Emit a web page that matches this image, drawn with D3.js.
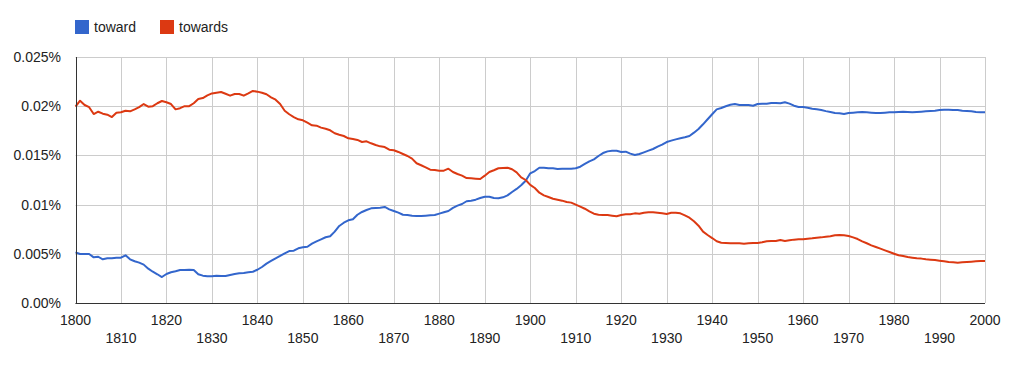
<!DOCTYPE html>
<html>
<head>
<meta charset="utf-8">
<script src="https://cdn.jsdelivr.net/npm/d3@7"></script>
<style>
  body { margin: 0; background: #fff; }
  svg text { font-family: Arial, "Liberation Sans", sans-serif; fill: #222; }
</style>
</head>
<body>
<div id="chart"></div>
<script>
const width = 1018;
const height = 366;
const margin = { left: 75.5, top: 57, right: 33, bottom: 63 };

const startYear = 1800;
const seriesNames = ["toward", "towards"];
const seriesColors = ["#3366cc", "#dc3912"];
const yTicks = [0, 0.005, 0.01, 0.015, 0.02, 0.025];
const yTickLabels = ["0.00%", "0.005%", "0.01%", "0.015%", "0.02%", "0.025%"];
const xTicks = [1800, 1810, 1820, 1830, 1840, 1850, 1860, 1870, 1880, 1890, 1900,
                1910, 1920, 1930, 1940, 1950, 1960, 1970, 1980, 1990, 2000];

// yearly values in percent, 1800..2000
const toward = [
  0.00515, 0.00498, 0.00498, 0.00498, 0.00464, 0.0047, 0.00444, 0.00454, 0.00454, 0.0046,
  0.0046, 0.00485, 0.00444, 0.00424, 0.0041, 0.0039, 0.00349, 0.00318, 0.00292, 0.00264,
  0.00295, 0.00312, 0.00322, 0.00335, 0.00335, 0.00339, 0.00335, 0.00292, 0.00278, 0.00271,
  0.00271, 0.00278, 0.00274, 0.00274, 0.00285, 0.00295, 0.00302, 0.00305, 0.00312, 0.00318,
  0.00338, 0.00366, 0.004, 0.00427, 0.00454, 0.00478, 0.00505, 0.00528, 0.00532, 0.00556,
  0.00566, 0.00572, 0.00603, 0.00627, 0.00647, 0.00668, 0.00678, 0.00725, 0.00783, 0.00816,
  0.0084, 0.00851, 0.00897, 0.00925, 0.00945, 0.00962, 0.00966, 0.00969, 0.00976, 0.00952,
  0.00935, 0.00918, 0.00897, 0.00894, 0.00887, 0.00884, 0.00884, 0.00887, 0.00891, 0.00894,
  0.00908, 0.00922, 0.00935, 0.00966, 0.00989, 0.01006, 0.01034, 0.0104, 0.0105, 0.01067,
  0.0108, 0.0108, 0.01067, 0.01064, 0.01074, 0.01094, 0.01128, 0.01159, 0.01196, 0.01243,
  0.01318, 0.01341, 0.01375, 0.01375, 0.01369, 0.01369, 0.01362, 0.01365, 0.01365, 0.01365,
  0.01369, 0.01385, 0.01413, 0.0144, 0.0146, 0.01494, 0.01524, 0.01541, 0.01548, 0.01548,
  0.01535, 0.01538, 0.01518, 0.01504, 0.01514, 0.01531, 0.01548, 0.01565, 0.01589, 0.01609,
  0.01636, 0.0165, 0.01663, 0.01674, 0.01684, 0.01697, 0.01731, 0.01768, 0.01816, 0.01867,
  0.01918, 0.01968, 0.01982, 0.02, 0.02015, 0.02022, 0.02012, 0.02012, 0.02012, 0.02005,
  0.02022, 0.02026, 0.02026, 0.02033, 0.02033, 0.0203, 0.0204, 0.02026, 0.02005, 0.01992,
  0.01992, 0.01985, 0.01975, 0.01968, 0.01961, 0.0195, 0.01941, 0.01931, 0.01928, 0.01921,
  0.01931, 0.01934, 0.01938, 0.01941, 0.01938, 0.01934, 0.01931, 0.01931, 0.01934, 0.01938,
  0.01938, 0.01941, 0.01944, 0.01941, 0.01938, 0.01941, 0.01944, 0.01948, 0.01951, 0.01954,
  0.01961, 0.01964, 0.01964, 0.01961, 0.01961, 0.01954, 0.01951, 0.01948, 0.01941, 0.01938,
  0.01938
];

const towards = [
  0.01995, 0.02056, 0.02012, 0.0199, 0.0192, 0.01944, 0.01924, 0.01914, 0.0189, 0.01934,
  0.01938, 0.01954, 0.01948, 0.01968, 0.0199, 0.02022, 0.01995, 0.02, 0.0203, 0.02053,
  0.0204, 0.02022, 0.01968, 0.0198, 0.02, 0.02, 0.0203, 0.02073, 0.02083, 0.0211,
  0.0213, 0.02137, 0.02144, 0.02126, 0.02107, 0.02124, 0.02124, 0.02107, 0.0213, 0.02155,
  0.02148, 0.02137, 0.02121, 0.0209, 0.02066, 0.02022, 0.01954, 0.01918, 0.0189, 0.01867,
  0.01857, 0.01832, 0.01806, 0.01802, 0.01782, 0.01771, 0.01755, 0.01725, 0.0171, 0.01697,
  0.01674, 0.01667, 0.01657, 0.01636, 0.01643, 0.01623, 0.01606, 0.01592, 0.01585, 0.01558,
  0.01552, 0.01535, 0.01514, 0.01494, 0.01467, 0.0142, 0.014, 0.01379, 0.01355, 0.01352,
  0.01345, 0.01345, 0.01365, 0.01331, 0.01311, 0.01294, 0.0127, 0.01267, 0.01263, 0.0126,
  0.01294, 0.01331, 0.01349, 0.01369, 0.01372, 0.01375, 0.01359, 0.01328, 0.01277, 0.0125,
  0.012, 0.01169, 0.01121, 0.01094, 0.01077, 0.0106, 0.0105, 0.0104, 0.01026, 0.0102,
  0.00999, 0.00979, 0.00958, 0.00931, 0.00908, 0.00897, 0.00894, 0.00894, 0.00887, 0.00881,
  0.00894, 0.00901, 0.00901, 0.00911, 0.00908, 0.00918, 0.00922, 0.00922, 0.00918, 0.00911,
  0.00904, 0.00918, 0.00918, 0.00911, 0.00891, 0.00867, 0.0083, 0.00786, 0.00725, 0.00691,
  0.0066, 0.00627, 0.00613, 0.0061, 0.00607, 0.00607, 0.00607, 0.00603, 0.00607, 0.0061,
  0.0061, 0.00617, 0.00627, 0.0063, 0.0063, 0.0064, 0.0063, 0.00637, 0.00644, 0.00647,
  0.00647, 0.00654, 0.00657, 0.00664, 0.00667, 0.00674, 0.00678, 0.00688, 0.00691, 0.00688,
  0.00681, 0.00667, 0.0065, 0.00627, 0.00607, 0.00586, 0.00569, 0.00552, 0.00535, 0.00518,
  0.00501, 0.00485, 0.00478, 0.00467, 0.0046, 0.00454, 0.00451, 0.00444, 0.0044, 0.00437,
  0.0043, 0.00424, 0.00417, 0.00413, 0.0041, 0.00413, 0.00417, 0.0042, 0.00424, 0.00427,
  0.00427
];

const allSeries = [toward, towards];

const svg = d3.select("#chart")
  .append("svg")
  .attr("width", width)
  .attr("height", height);

const xScale = d3.scaleLinear()
  .domain([1800, 2000])
  .range([margin.left, width - margin.right]);

const yScale = d3.scaleLinear()
  .domain([0, 0.025])
  .range([height - margin.bottom, margin.top]);

// gridlines
svg.append("g")
  .selectAll("line")
  .data(xTicks)
  .join("line")
    .attr("x1", d => Math.round(xScale(d)) + 0.5)
    .attr("x2", d => Math.round(xScale(d)) + 0.5)
    .attr("y1", yScale(0.025))
    .attr("y2", yScale(0))
    .attr("stroke", "#cccccc");

svg.append("g")
  .selectAll("line")
  .data(yTicks)
  .join("line")
    .attr("x1", xScale(1800))
    .attr("x2", xScale(2000))
    .attr("y1", d => Math.round(yScale(d)) + 0.5)
    .attr("y2", d => Math.round(yScale(d)) + 0.5)
    .attr("stroke", "#cccccc");

// y labels
svg.append("g")
  .selectAll("text")
  .data(yTicks)
  .join("text")
    .attr("x", 61)
    .attr("y", d => yScale(d) + 5)
    .attr("text-anchor", "end")
    .style("font-size", "14px")
    .text((d, i) => yTickLabels[i]);

// x labels, staggered on two rows
svg.append("g")
  .selectAll("text")
  .data(xTicks)
  .join("text")
    .attr("x", d => xScale(d))
    .attr("y", (d, i) => i % 2 === 0 ? 325 : 343)
    .attr("text-anchor", "middle")
    .style("font-size", "14px")
    .text(d => d);

// lines
const line = d3.line()
  .x((d, i) => xScale(startYear + i))
  .y(d => yScale(d));

svg.append("g")
  .selectAll("path")
  .data(allSeries)
  .join("path")
    .attr("d", d => line(d))
    .attr("fill", "none")
    .attr("stroke", (d, i) => seriesColors[i])
    .attr("stroke-width", 2)
    .attr("stroke-linejoin", "round");

// axes
svg.append("line")
  .attr("x1", Math.round(xScale(1800)) + 0.5)
  .attr("x2", Math.round(xScale(1800)) + 0.5)
  .attr("y1", yScale(0.025))
  .attr("y2", yScale(0) + 0.5)
  .attr("stroke", "#333");

svg.append("line")
  .attr("x1", xScale(1800))
  .attr("x2", xScale(2000))
  .attr("y1", Math.round(yScale(0)) + 0.5)
  .attr("y2", Math.round(yScale(0)) + 0.5)
  .attr("stroke", "#333");

// legend
const legendX = [75, 160];
const legend = svg.append("g")
  .selectAll("g")
  .data(seriesNames)
  .join("g")
    .attr("transform", (d, i) => `translate(${legendX[i]}, 20)`);

legend.append("rect")
  .attr("width", 14)
  .attr("height", 14)
  .attr("fill", (d, i) => seriesColors[i]);

legend.append("text")
  .attr("x", 19)
  .attr("y", 12)
  .style("font-size", "14px")
  .text(d => d);
</script>
</body>
</html>
